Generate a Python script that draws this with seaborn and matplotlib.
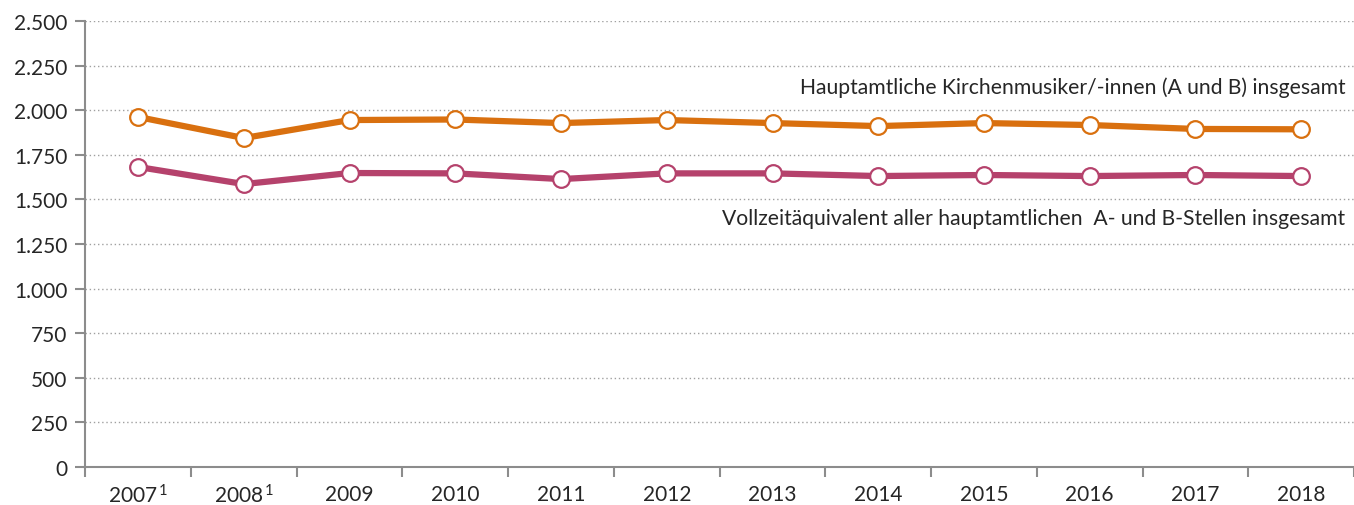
import pandas as pd
import seaborn as sns
import matplotlib.pyplot as plt
import numpy as np
from matplotlib.ticker import FixedLocator

# Data
years = ['2007$^{\\,1}$', '2008$^{\\,1}$', '2009', '2010', '2011', '2012',
         '2013', '2014', '2015', '2016', '2017', '2018']
musiker = [1962, 1844, 1945, 1948, 1928, 1945, 1928, 1911, 1928, 1917, 1895, 1893]
vollzeit = [1682, 1586, 1648, 1646, 1614, 1646, 1646, 1631, 1637, 1631, 1637, 1631]
label_musiker = 'Hauptamtliche Kirchenmusiker/-innen (A und B) insgesamt'
label_vollzeit = 'Vollzeitäquivalent aller hauptamtlichen  A- und B-Stellen insgesamt'
yticks = [0, 250, 500, 750, 1000, 1250, 1500, 1750, 2000, 2250, 2500]
ytick_labels = ['0', '250', '500', '750', '1.000', '1.250', '1.500',
                '1.750', '2.000', '2.250', '2.500']

orange = '#d9700f'
purple = '#b5426c'
grey = '#8c8c8c'

sns.set_style('white')
plt.rcParams['font.family'] = ['Lato', 'DejaVu Sans']
plt.rcParams['mathtext.fontset'] = 'custom'
plt.rcParams['mathtext.rm'] = 'Lato'
plt.rcParams['mathtext.default'] = 'regular'

df = pd.DataFrame({'pos': np.arange(len(years)), 'musiker': musiker, 'vollzeit': vollzeit})

fig = plt.figure(figsize=(13.54, 5.06), dpi=100)
ax = fig.add_axes([0.063, 0.075, 0.937, 0.8815])

for col, color in [('musiker', orange), ('vollzeit', purple)]:
    sns.lineplot(data=df, x='pos', y=col, ax=ax, color=color, linewidth=4.5,
                 marker='o', markersize=12, markerfacecolor='white',
                 markeredgecolor=color, markeredgewidth=1.6, clip_on=False, zorder=3)

ax.set_xlim(-0.5, len(years) - 0.5)
ax.set_ylim(0, 2500)
ax.set_xlabel('')
ax.set_ylabel('')

ax.set_xticks(df['pos'])
ax.set_xticklabels(years, fontsize=15)
ax.xaxis.set_minor_locator(FixedLocator(np.arange(-0.5, len(years), 1.0)))
ax.tick_params(axis='x', which='major', length=0, pad=12)
ax.tick_params(axis='x', which='minor', length=7, width=1.5, color=grey, direction='out', bottom=True)

ax.set_yticks(yticks)
ax.set_yticklabels(ytick_labels, fontsize=15)
ax.tick_params(axis='y', which='major', length=7, width=1.5, color=grey, direction='out', left=True, pad=6)

ax.grid(axis='y', linestyle=(0, (1, 2)), color='#a0a0a0', linewidth=1)
ax.grid(axis='x', visible=False)
for side in ['top', 'right']:
    ax.spines[side].set_visible(False)
for side in ['left', 'bottom']:
    ax.spines[side].set_color(grey)
    ax.spines[side].set_linewidth(1.5)

ax.text(11.42, 2130, label_musiker, ha='right', va='center', fontsize=15.25)
ax.text(11.42, 1395, label_vollzeit, ha='right', va='center', fontsize=15.25)

fig.savefig('out.png', dpi=100)
